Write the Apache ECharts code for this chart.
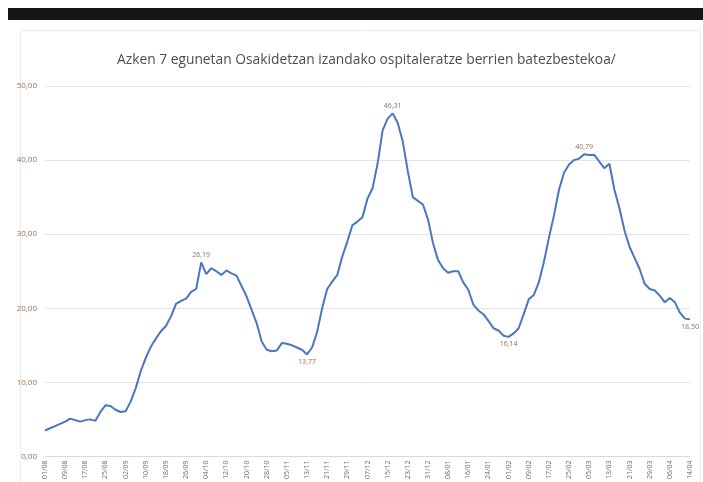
<!DOCTYPE html>
<html>
<head>
<meta charset="utf-8">
<script src="https://cdn.jsdelivr.net/npm/echarts@6/dist/echarts.min.js"></script>
<style>
html,body{margin:0;padding:0;background:#fff;}
#bar{position:absolute;left:8px;top:8px;width:695px;height:12px;background:#161616;}
#chart{position:absolute;left:0;top:0;width:703px;height:482px;}
</style>
</head>
<body>
<div id="chart"></div>
<div id="bar"></div>
<script>
const titleText = "Azken 7 egunetan Osakidetzan izandako ospitaleratze berrien batezbestekoa/";
const startDate = "2020-08-01";
const stepDays = 2;
const values = [
 3.5, 3.8, 4.1, 4.4, 4.7, 5.1, 4.9, 4.7, 4.9, 5.0,
 4.8, 6.0, 6.9, 6.8, 6.3, 6.0, 6.1, 7.4, 9.2, 11.5,
 13.3, 14.8, 15.9, 16.9, 17.6, 18.9, 20.6, 21.0, 21.3, 22.2,
 22.6, 26.19, 24.6, 25.4, 25.0, 24.5, 25.1, 24.7, 24.4, 23.0,
 21.6, 19.8, 18.0, 15.5, 14.4, 14.2, 14.3, 15.3, 15.2, 15.0,
 14.7, 14.4, 13.77, 14.7, 16.8, 20.0, 22.6, 23.6, 24.5, 27.0,
 29.0, 31.2, 31.7, 32.3, 34.8, 36.2, 39.5, 44.0, 45.6, 46.31,
 45.0, 42.5, 38.5, 35.0, 34.5, 34.0, 32.0, 28.8, 26.5, 25.4,
 24.8, 25.0, 25.0, 23.5, 22.5, 20.5, 19.7, 19.2, 18.3, 17.3,
 17.0, 16.3, 16.14, 16.6, 17.3, 19.2, 21.2, 21.8, 23.5, 26.2,
 29.5, 32.5, 36.0, 38.3, 39.4, 40.0, 40.2, 40.79, 40.7, 40.7,
 39.8, 38.9, 39.5, 36.0, 33.5, 30.5, 28.3, 26.8, 25.3, 23.3,
 22.6, 22.4, 21.7, 20.8, 21.4, 20.8, 19.4, 18.6, 18.50
];
const peakIdx = [31, 69, 107];
const troughIdx = [52, 92, 128];

const categories = [];
(function(){
  const d0 = new Date(startDate + "T00:00:00Z");
  for (let i = 0; i < values.length; i++) {
    const d = new Date(d0.getTime() + i * stepDays * 86400000);
    const dd = String(d.getUTCDate()).padStart(2, "0");
    const mm = String(d.getUTCMonth() + 1).padStart(2, "0");
    categories.push(dd + "/" + mm);
  }
})();

const fmt = v => v.toFixed(2).replace(".", ",");
const seriesData = values.map((v, i) => {
  if (peakIdx.indexOf(i) >= 0) {
    return {value: v, label: {show: true, position: 'top', distance: 4}};
  }
  if (troughIdx.indexOf(i) >= 0) {
    return {value: v, label: {show: true, position: 'bottom', distance: 4}};
  }
  return v;
});

const chart = echarts.init(document.getElementById('chart'), null, {renderer: 'canvas'});
chart.setOption({
  animation: false,
  backgroundColor: '#ffffff',
  title: {
    text: titleText,
    left: 112, top: 48,
    textStyle: {fontFamily: 'Open Sans', fontSize: 13.8, fontWeight: 'normal', color: '#4d4d4d'}
  },
  graphic: [{
    type: 'rect', shape: {x: 20.5, y: 30.5, width: 680, height: 460},
    style: {fill: 'none', stroke: '#ececec', lineWidth: 1}, silent: true
  }],
  grid: {left: 45, right: 13, top: 86, bottom: 24, containLabel: false},
  xAxis: {
    type: 'category',
    data: categories,
    boundaryGap: false,
    axisLine: {lineStyle: {color: '#d9d9d9'}},
    axisTick: {show: false},
    axisLabel: {
      interval: 3, rotate: 90, fontSize: 7, color: '#6f6f6f',
      fontFamily: 'Open Sans', margin: 4
    }
  },
  yAxis: {
    type: 'value', min: 0, max: 50, interval: 10,
    axisLine: {show: false}, axisTick: {show: false},
    splitLine: {lineStyle: {color: '#e3e3e3'}},
    axisLabel: {formatter: v => fmt(v), fontSize: 8, color: '#9a6f52', fontFamily: 'Open Sans', margin: 8}
  },
  series: [{
    type: 'line',
    data: seriesData,
    symbol: 'circle',
    symbolSize: 0.1,
    showSymbol: true,
    showAllSymbol: true,
    itemStyle: {color: '#4a76c0'},
    lineStyle: {color: '#4a76c0', width: 2},
    label: {show: false, formatter: p => fmt(p.value), fontSize: 7, color: '#8a7060', fontFamily: 'Open Sans'}
  }]
});
</script>
</body>
</html>
